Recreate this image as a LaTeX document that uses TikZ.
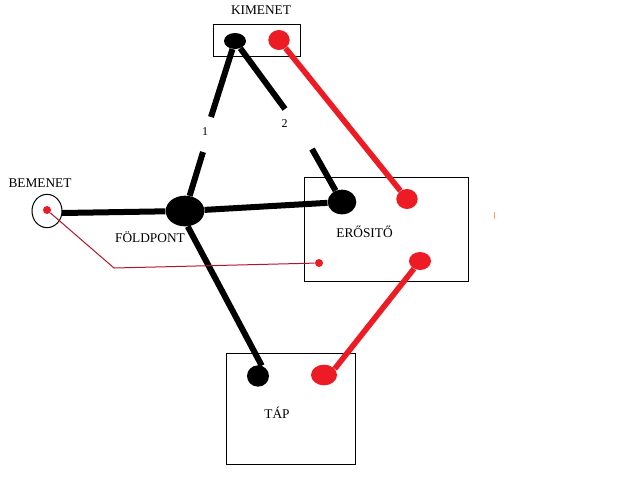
\documentclass[tikz,border=0pt]{standalone}
\usepackage{fontspec}
\setmainfont{Liberation Serif}
\usetikzlibrary{shapes.geometric}
\definecolor{pred}{HTML}{ED1C24}
\definecolor{thinred}{HTML}{B5152B}
\tikzset{
  dotblack/.style={ellipse,fill=black,inner sep=0pt,draw=none},
  dotred/.style={ellipse,fill=pred,inner sep=0pt,draw=none},
  boxnode/.style={draw=black,line width=0.75pt,inner sep=0pt,anchor=north west},
  lbl/.style={font=\fontsize{10pt}{12pt}\selectfont,text=black,inner sep=0pt},
  small lbl/.style={font=\fontsize{9pt}{10pt}\selectfont,text=black,inner sep=0pt},
  wireb/.style={draw=black,line width=4.5pt},
  wirer/.style={draw=pred,line width=4.2pt},
  wirethin/.style={draw=thinred,line width=0.75pt},
}
\begin{document}
\begin{tikzpicture}[x=0.75pt,y=-0.75pt]
\useasboundingbox[fill=white] (0,0) rectangle (640,480);
% boxes
\node[boxnode,minimum width=65.25pt,minimum height=24pt] (kbox) at (213,24) {};
\node[boxnode,minimum width=123pt,minimum height=78pt] (ebox) at (303.5,176.5) {};
\node[boxnode,minimum width=96.75pt,minimum height=83.25pt] (tbox) at (225.5,352.5) {};
\node[draw=black,line width=0.75pt,ellipse,minimum width=22.5pt,minimum height=25pt,inner sep=0pt] (bem) at (47,211) {};
% terminals
\node[dotblack,minimum width=16.5pt,minimum height=12pt] (kb) at (235,41) {};
\node[dotred,minimum width=16pt,minimum height=15pt] (kr) at (279,40) {};
\node[dotblack,minimum width=29pt,minimum height=23pt] (fp) at (185,211) {};
\node[dotblack,minimum width=21.5pt,minimum height=18.5pt] (eb) at (342,202) {};
\node[dotred,minimum width=16pt,minimum height=15pt] (er) at (407,199) {};
\node[dotred,minimum width=16.5pt,minimum height=13.5pt] (er2) at (420,261) {};
\node[dotred,minimum width=6pt,minimum height=6pt] (ein) at (319,263) {};
\node[dotred,minimum width=6pt,minimum height=6pt] (bin) at (47,210) {};
\node[dotblack,minimum width=16.5pt,minimum height=16pt] (tb) at (258,376) {};
\node[dotred,minimum width=19.5pt,minimum height=15.5pt] (tr) at (324,375) {};
% labels
\node[lbl] (lk) at (261,10.5) {KIMENET};
\node[lbl] (lb) at (40,183) {BEMENET};
\node[lbl] (lf) at (150,237.5) {FÖLDPONT};
\node[lbl] (le) at (364.5,232) {ERŐSITŐ};
\node[lbl] (lt) at (277,413) {TÁP};
\node[small lbl] (l1) at (205,132) {1};
\node[small lbl] (l2) at (284.5,124) {2};
% free ends
\coordinate (a1) at (211,117);
\coordinate (a2) at (203,152);
\coordinate (b1) at (285,109);
\coordinate (b2) at (312,149);
\coordinate (bemr) at (62,213);
\coordinate (bend) at (114,268);
% wires
\draw[wireb] (kb) -- (a1);
\draw[wireb] (a2) -- (fp);
\draw[wireb] (kb) -- (b1);
\draw[wireb] (b2) -- (eb);
\draw[wireb] (bemr) -- (fp);
\draw[wireb] (fp) -- (eb);
\draw[wireb] (fp.-80) -- (tb.70);
\draw[wirer] (kr) -- (er);
\draw[wirer] (er2) -- (tr.30);
\draw[wirethin] (bin) -- (bend) -- (ein);
% stray speck
\fill[orange!70!white] (494,212) rectangle (495,219);
\end{tikzpicture}
\end{document}
